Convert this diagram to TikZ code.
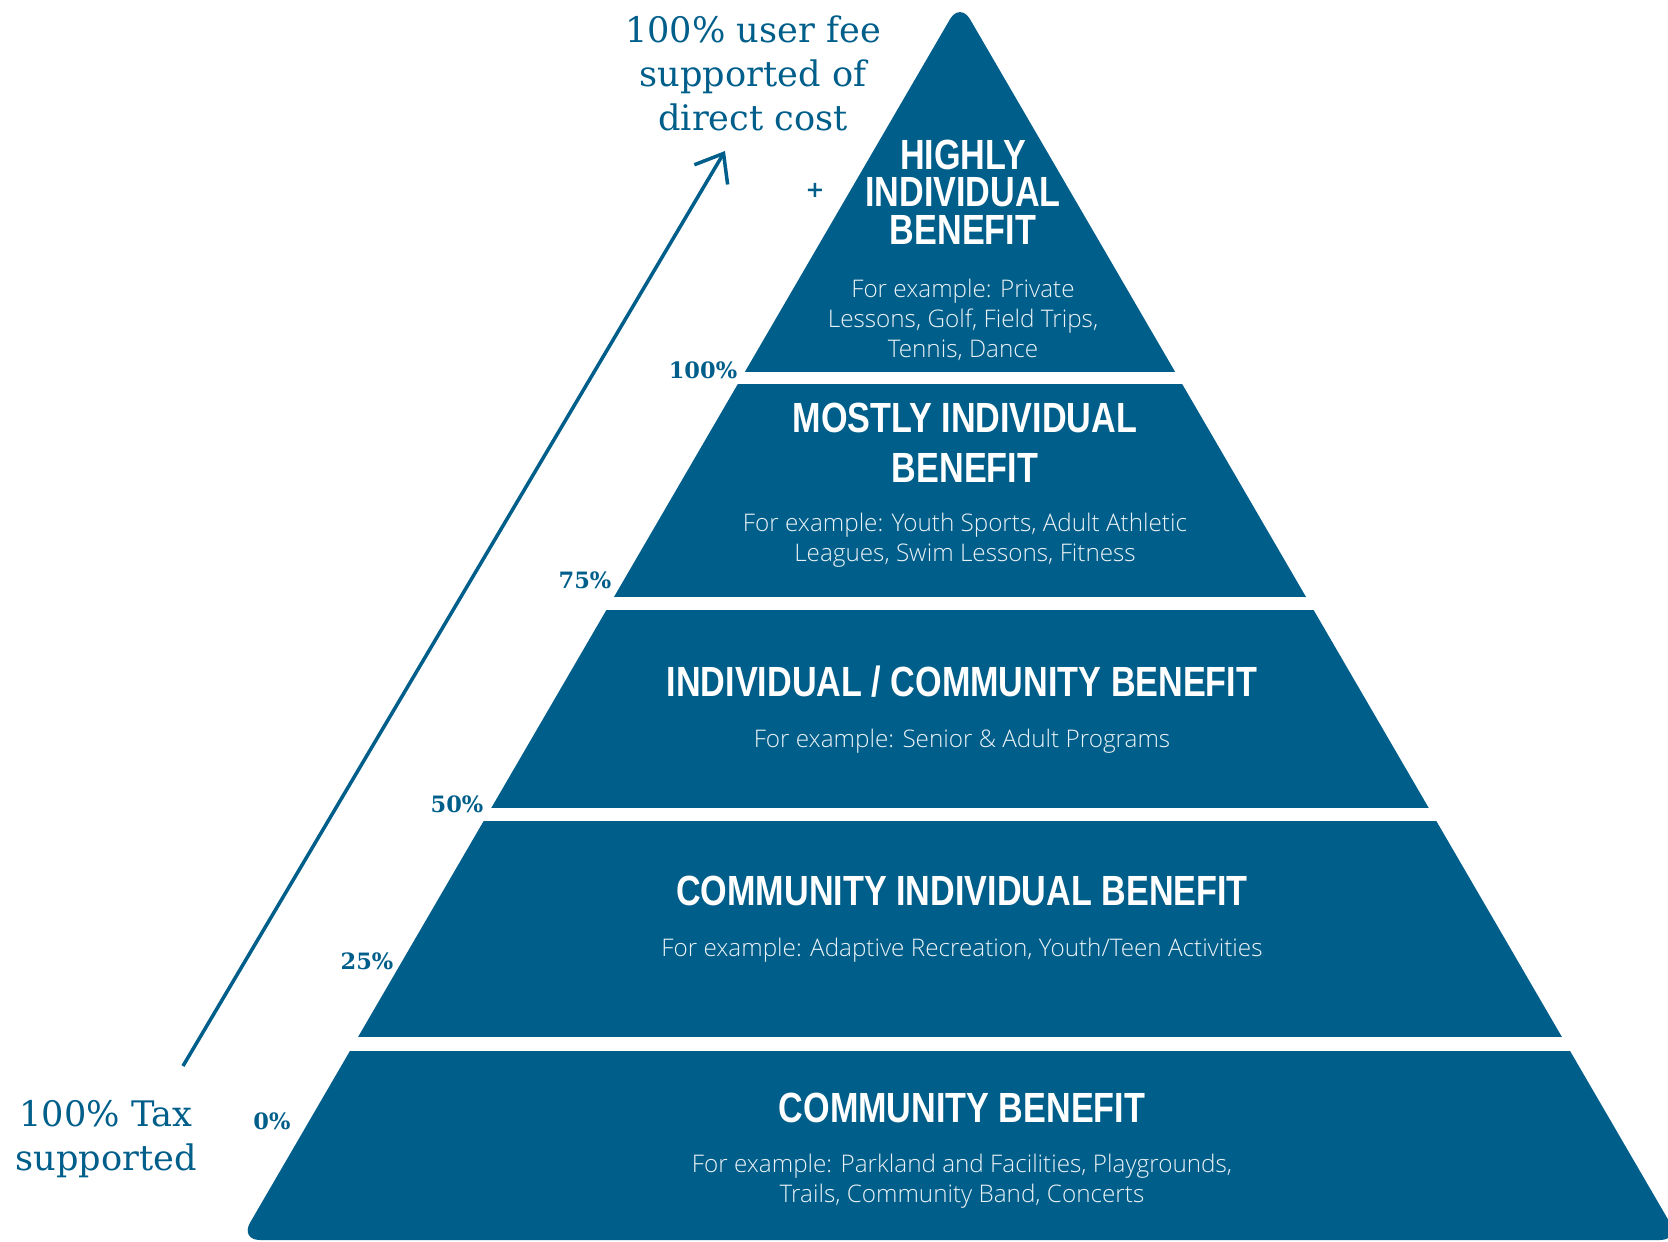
\documentclass[tikz,border=0pt]{standalone}
\usepackage{fontspec}
\usepackage{xcolor}
\usepackage{tikz}
\usetikzlibrary{arrows.meta}
\definecolor{pyramidblue}{RGB}{0,94,138}
\newfontfamily\headfont[FakeStretch=0.81]{Liberation Sans}
\IfFontExistsTF{Open Sans Light}{\newfontfamily\examplefont{Open Sans Light}}{\newfontfamily\examplefont{Open Sans}}
\newfontfamily\slabfont{DejaVu Serif}
\tikzstyle{title} = [text=white, font=\headfont\bfseries\fontsize{12}{10.7}\selectfont, align=center, inner sep=0pt]
\tikzstyle{example} = [text=white!92!pyramidblue, font=\examplefont\fontsize{6.9}{8.5}\selectfont, align=center, inner sep=0pt]
\tikzstyle{percent} = [text=pyramidblue, font=\slabfont\bfseries\fontsize{6.4}{7}\selectfont, inner sep=0pt]
\tikzstyle{caption} = [text=pyramidblue, font=\slabfont\fontsize{10}{12.5}\selectfont, align=center, inner sep=0pt]

\begin{document}
\begin{tikzpicture}[x=0.01cm, y=-0.01cm]
		\useasboundingbox (0,0) rectangle (1668,1242);
		\fill [pyramidblue, rounded corners=0.2cm] (960,1240) -- (240,1240) -- (960,2) -- (1680,1240) -- cycle;
		\foreach \ytop/\ybot in {372/384, 597/610, 808/821, 1037/1051}
			\fill [white] (0,\ytop) rectangle (1680,\ybot);

		\node (HighlyTitle)[title] at (963,192) {HIGHLY\\INDIVIDUAL\\BENEFIT};
		\node (HighlyEx)[example] at (963,320) {For example: Private\\Lessons, Golf, Field Trips,\\Tennis, Dance};
		\node (MostlyTitle)[title] at (965,443) {MOSTLY INDIVIDUAL\\[3.5pt]BENEFIT};
		\node (MostlyEx)[example] at (965,540) {For example: Youth Sports, Adult Athletic\\Leagues, Swim Lessons, Fitness};
		\node (MixedTitle)[title] at (962,682) {INDIVIDUAL / COMMUNITY BENEFIT};
		\node (MixedEx)[example] at (962,741) {For example: Senior \& Adult Programs};
		\node (CommIndTitle)[title] at (962,891) {COMMUNITY INDIVIDUAL BENEFIT};
		\node (CommIndEx)[example] at (962,950) {For example: Adaptive Recreation, Youth/Teen Activities};
		\node (CommTitle)[title] at (962,1108) {COMMUNITY BENEFIT};
		\node (CommEx)[example] at (962,1181) {For example: Parkland and Facilities, Playgrounds,\\Trails, Community Band, Concerts};

		\node (P100)[percent] at (703,370) {100\%};
		\node (P75)[percent] at (585,580) {75\%};
		\node (P50)[percent] at (457,804) {50\%};
		\node (P25)[percent] at (367,961) {25\%};
		\node (P0)[percent] at (272,1121) {0\%};
		\node (Plus)[percent] at (815,190) {+};

		\node (FeeLabel)[caption] at (753,73) {100\% user fee\\supported of\\direct cost};
		\node (TaxLabel)[caption] at (106,1139) {100\% Tax\\supported};
		\coordinate (TaxTail) at (183,1066);
		\coordinate (FeeTip) at (725,151);
		\draw [-{Straight Barb[length=7pt, width=11pt]}, line width=1pt, pyramidblue] (TaxTail) -- (FeeTip);
	\end{tikzpicture}
\end{document}
